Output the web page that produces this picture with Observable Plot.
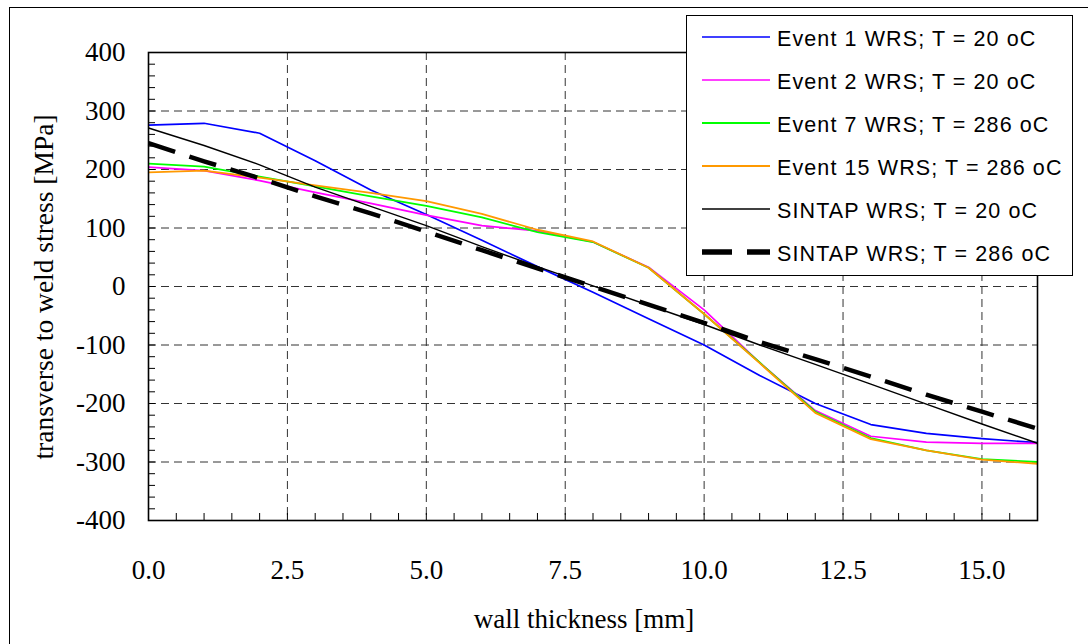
<!DOCTYPE html>
<html><head><meta charset="utf-8">
<script src="https://cdn.jsdelivr.net/npm/d3@7"></script>
<script src="https://cdn.jsdelivr.net/npm/@observablehq/plot@0.6"></script>
<style>
html,body{margin:0;padding:0;background:#fff;}
#chart{position:relative;width:1088px;height:644px;overflow:hidden;}
</style></head><body><div id="chart"></div>
<script>
// ---- data ----
const thickness = [0,1,2,3,4,5,6,7,8,9,10,11,12,13,14,15,16];
const event1   = [276, 279, 262, 215, 165, 123, 79, 34, -10, -55, -100, -152, -200, -236, -251, -260, -267];
const event2   = [204, 198, 181, 161, 142, 122, 104, 95, 76, 33, -40, -130, -212, -256, -266, -268, -268];
const event7   = [210, 205, 188, 171, 154, 138, 118, 93, 76, 32, -47, -130, -214, -259, -280, -295, -300];
const event15  = [195, 198, 186, 173, 160, 146, 124, 97, 77, 32, -47, -131, -216, -261, -280, -296, -303];
const sintap20 = [271, 241, 208, 170, 137, 104, 68, 34, 1, -32, -65, -100, -133, -167, -201, -235, -268];
const sintap286= [245, 214, 185, 154, 125, 94, 62, 31, 0, -31, -62, -95, -124, -154, -185, -214, -243];

const seriesNames = [
  "Event 1 WRS; T = 20 oC",
  "Event 2 WRS; T = 20 oC",
  "Event 7 WRS; T = 286 oC",
  "Event 15 WRS; T = 286 oC",
  "SINTAP WRS; T = 20 oC",
  "SINTAP WRS; T = 286 oC"
];
const seriesValues = [event1, event2, event7, event15, sintap20, sintap286];
const seriesColors = ["#0000ff", "#ff00ff", "#00ff00", "#ff9900", "#000000", "#000000"];
const seriesWidths = [1.7, 1.7, 1.8, 1.8, 1.4, 4.5];
const seriesDash   = [null, null, null, null, null, "28,15"];

const xTicks = [0, 2.5, 5, 7.5, 10, 12.5, 15];
const yTicks = [-400, -300, -200, -100, 0, 100, 200, 300, 400];
const xGrid = [2.5, 5, 7.5, 10, 12.5, 15];
const yGrid = [-300, -200, -100, 0, 100, 200, 300];
const xMinor = d3.range(0, 16.001, 0.5);
const yMinor = d3.range(-400, 400.1, 20);

const xLabel = "wall thickness [mm]";
const yLabel = "transverse to weld stress [MPa]";

// ---- layout ----
const W = 1088, H = 644;
const ML = 148, MR = 51, MT = 52, MB = 124;
const serif = "'Liberation Serif', 'Times New Roman', serif";
const sans = "'Liberation Sans', Arial, sans-serif";

const xPerPx = 16 / (W - ML - MR);
const yPerPx = 800 / (H - MT - MB);
const tickLen = 7;

const lineMarks = seriesValues.map((vals, k) =>
  Plot.line(thickness, {
    x: d => d,
    y: (d, i) => vals[i],
    stroke: seriesColors[k],
    strokeWidth: seriesWidths[k],
    strokeDasharray: seriesDash[k],
    strokeLinejoin: "round",
    strokeLinecap: "butt"
  })
);

const plot = Plot.plot({
  width: W, height: H,
  marginLeft: ML, marginRight: MR, marginTop: MT, marginBottom: MB,
  style: {fontFamily: serif, fontSize: "27px", background: "white", color: "black"},
  x: {domain: [0, 16]},
  y: {domain: [-400, 400]},
  marks: [
    Plot.gridX(xGrid, {stroke: "#333", strokeOpacity: 1, strokeWidth: 1, strokeDasharray: "8,5"}),
    Plot.gridY(yGrid, {stroke: "#333", strokeOpacity: 1, strokeWidth: 1, strokeDasharray: "8,5"}),
    Plot.ruleX(xMinor, {x: d => d, y1: -400, y2: -400 + tickLen * yPerPx, stroke: "black", strokeWidth: 1}),
    Plot.ruleY(yMinor, {y: d => d, x1: 0, x2: tickLen * xPerPx, stroke: "black", strokeWidth: 1}),
    ...lineMarks,
    Plot.frame({stroke: "black", strokeWidth: 1.6}),
    Plot.axisX(xTicks, {tickSize: 0, tickPadding: 39, tickFormat: d => d.toFixed(1), label: null, fontSize: 27}),
    Plot.axisY(yTicks, {tickSize: 0, tickPadding: 23, tickFormat: d => String(d), label: null, fontSize: 27})
  ]
});

document.getElementById("chart").appendChild(plot);

const svg = d3.select(plot);
// outer border
svg.append("rect").attr("x", 9.5).attr("y", 7.5).attr("width", 1200).attr("height", 800)
  .attr("fill", "none").attr("stroke", "black").attr("stroke-width", 1);

// axis titles
svg.append("text").attr("x", 584).attr("y", 628).attr("text-anchor", "middle")
  .attr("font-family", serif).attr("font-size", 27).attr("fill", "black").text(xLabel);
svg.append("text").attr("transform", "translate(53,287) rotate(-90)").attr("text-anchor", "middle")
  .attr("font-family", serif).attr("font-size", 27.5).attr("fill", "black").text(yLabel);

// legend
const lg = svg.append("g");
lg.append("rect").attr("x", 686.5).attr("y", 15.5).attr("width", 386).attr("height", 260)
  .attr("fill", "white").attr("stroke", "black").attr("stroke-width", 1);
seriesNames.forEach((name, k) => {
  const cy = 38 + k * 43;
  lg.append("line").attr("x1", 702).attr("x2", 770).attr("y1", cy - 1).attr("y2", cy - 1)
    .attr("stroke", seriesColors[k]).attr("stroke-width", k === 5 ? 5.5 : seriesWidths[k])
    .attr("stroke-dasharray", k === 5 ? "30,15" : null);
  lg.append("text").attr("x", 777).attr("y", cy).attr("dy", "0.35em")
    .attr("text-anchor", "start")
    .attr("font-family", sans).attr("font-size", 21.5).attr("letter-spacing", "1.1px")
    .attr("fill", "black").text(name);
});
</script>
</body></html>
